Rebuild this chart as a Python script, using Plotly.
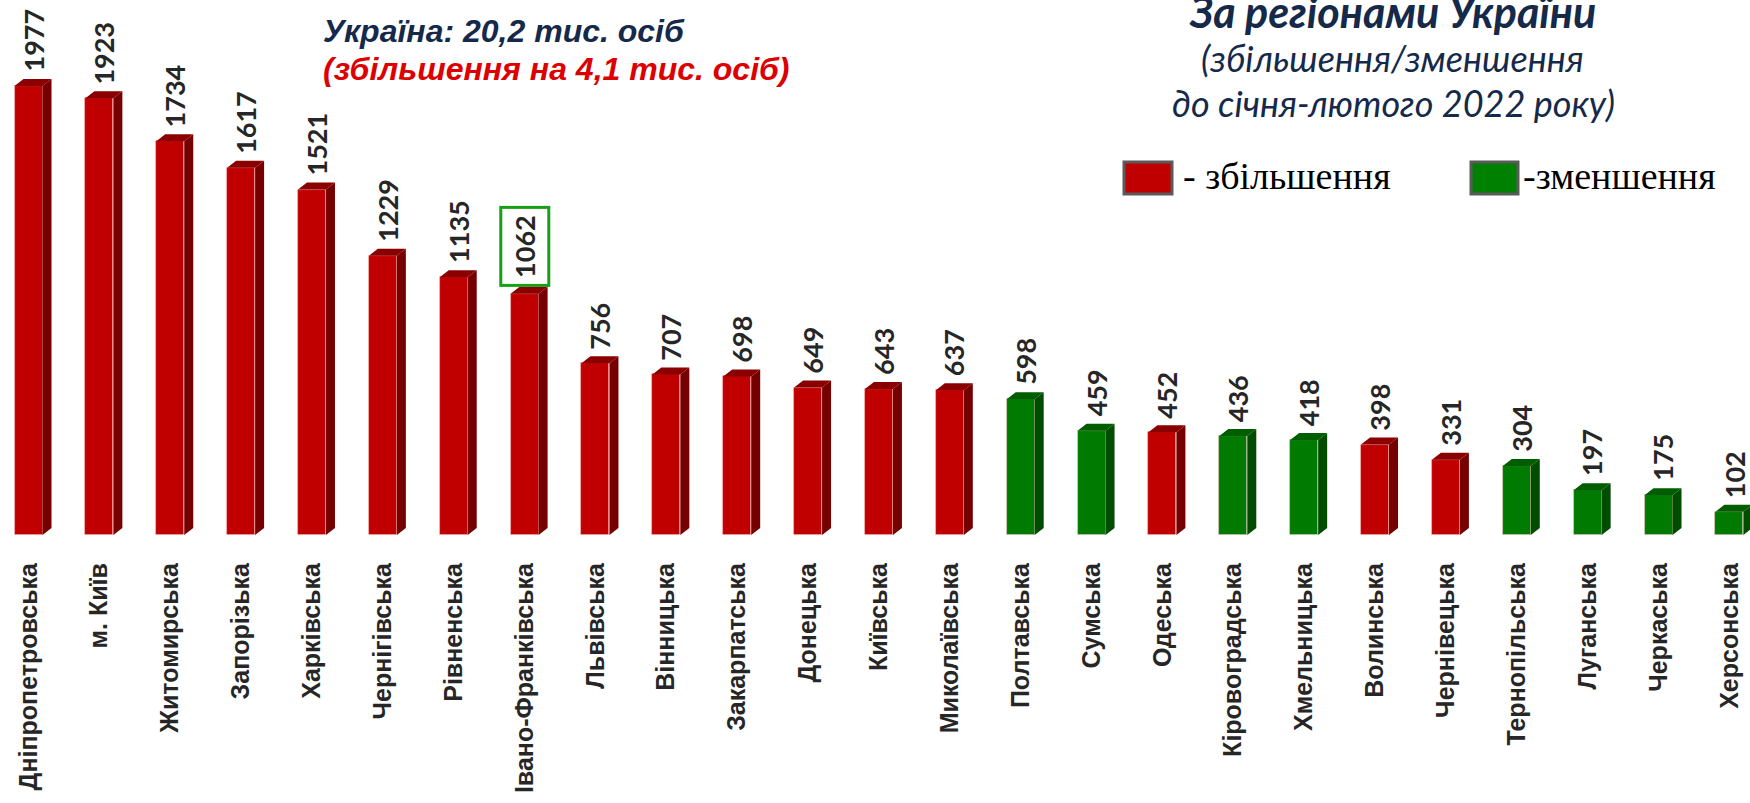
import plotly.graph_objects as go

# ---- data ----
regions = ["Дніпропетровська", "м. Київ", "Житомирська", "Запорізька", "Харківська",
           "Чернігівська", "Рівненська", "Івано-Франківська", "Львівська", "Вінницька",
           "Закарпатська", "Донецька", "Київська", "Миколаївська", "Полтавська",
           "Сумська", "Одеська", "Кіровоградська", "Хмельницька", "Волинська",
           "Чернівецька", "Тернопільська", "Луганська", "Черкаська", "Херсонська"]
values = [1977, 1923, 1734, 1617, 1521, 1229, 1135, 1062, 756, 707,
          698, 649, 643, 637, 598, 459, 452, 436, 418, 398,
          331, 304, 197, 175, 102]
# "+" = increase vs Jan-Feb 2022, "-" = decrease
change = ["+", "+", "+", "+", "+", "+", "+", "+", "+", "+",
          "+", "+", "+", "+", "-", "-", "+", "-", "-", "+",
          "+", "-", "-", "-", "-"]
highlight_region = "Івано-Франківська"

title_left_1 = "Україна: 20,2 тис. осіб"
title_left_2 = "(збільшення на 4,1 тис. осіб)"
title_right = ["За регіонами України", "(збільшення/зменшення", "до січня-лютого 2022 року)"]
legend_labels = {"+": "- збільшення", "-": "-зменшення"}

# ---- style ----
W, H = 1750, 803
FRONT = {"+": "#C00000", "-": "#007A00"}
SIDE = {"+": "#760000", "-": "#004C00"}
TOP = {"+": "#8A0000", "-": "#005E00"}
LEG = {"+": "#C00000", "-": "#008000"}
NAVY = "#15294A"

base_px = 535          # y pixel of baseline
units_per_px = 4.403
bar_spacing_px = 70.87
first_center_px = 28.5
bw = 0.395             # front face width (category units)
dx = 9 / bar_spacing_px   # depth offset, x (units)
dy = 7 * units_per_px     # depth offset, y (data units)

x_idx = list(range(len(regions)))
x0 = -first_center_px / bar_spacing_px
x1 = x0 + W / bar_spacing_px
y1 = base_px * units_per_px

fig = go.Figure()

for sign in ["+", "-"]:
    xs = [i for i in x_idx if change[i] == sign]
    vs = [values[i] for i in xs]
    fig.add_trace(go.Bar(
        x=xs, y=vs, width=bw,
        marker=dict(color=FRONT[sign], line=dict(color="rgba(255,190,190,0.55)", width=0.8)),
        hoverinfo="skip", showlegend=False))
    sx, sy = [], []
    tx, ty = [], []
    for i, v in zip(xs, vs):
        xr = i + bw / 2
        xl = i - bw / 2
        sx += [xr, xr + dx, xr + dx, xr, xr, None]
        sy += [0, dy, v + dy, v, 0, None]
        tx += [xl, xr, xr + dx, xl + dx, xl, None]
        ty += [v, v, v + dy, v + dy, v, None]
    fig.add_trace(go.Scatter(x=sx, y=sy, mode="lines", fill="toself", fillcolor=SIDE[sign],
                             line=dict(width=0, color=SIDE[sign]), hoverinfo="skip",
                             showlegend=False))
    fig.add_trace(go.Scatter(x=tx, y=ty, mode="lines", fill="toself", fillcolor=TOP[sign],
                             line=dict(width=0, color=TOP[sign]), hoverinfo="skip",
                             showlegend=False))

VAL_FONT = dict(family="Lato", size=27, color="#262626", weight="bold")
annotations = []
for i, (r, v) in enumerate(zip(regions, values)):
    if r == highlight_region:
        annotations.append(dict(
            x=i, y=v, xref="x", yref="y", text=str(v), showarrow=False,
            textangle=-90, yanchor="bottom", xanchor="center", yshift=7,
            font=VAL_FONT, bordercolor="#16A016", borderwidth=3, borderpad=6))
    else:
        annotations.append(dict(
            x=i + dx / 2, y=v, xref="x", yref="y", text=str(v), showarrow=False,
            textangle=-90, yanchor="bottom", xanchor="center", yshift=12,
            font=VAL_FONT))


def py(p):
    return (base_px - p) / base_px


annotations += [
    dict(x=321 / W, y=py(31), xref="paper", yref="paper", text="<b><i>" + title_left_1 + "</i></b>",
         showarrow=False, xanchor="left", yanchor="middle",
         font=dict(family="Liberation Sans", size=32, color=NAVY)),
    dict(x=321 / W, y=py(69), xref="paper", yref="paper", text="<b><i>" + title_left_2 + "</i></b>",
         showarrow=False, xanchor="left", yanchor="middle",
         font=dict(family="Liberation Sans", size=32, color="#DD0000")),
    dict(x=1392 / W, y=py(11), xref="paper", yref="paper", text="<b><i>" + title_right[0] + "</i></b>",
         showarrow=False, xanchor="center", yanchor="middle",
         font=dict(family="Lato", size=43, color=NAVY)),
    dict(x=1392 / W, y=py(58), xref="paper", yref="paper", text="<i>" + title_right[1] + "</i>",
         showarrow=False, xanchor="center", yanchor="middle",
         font=dict(family="Lato", size=36, color=NAVY)),
    dict(x=1393 / W, y=py(103), xref="paper", yref="paper", text="<i>" + title_right[2] + "</i>",
         showarrow=False, xanchor="center", yanchor="middle",
         font=dict(family="Lato", size=36, color=NAVY)),
    dict(x=1181 / W, y=py(176), xref="paper", yref="paper", text=legend_labels["+"],
         showarrow=False, xanchor="left", yanchor="middle",
         font=dict(family="Liberation Serif", size=38, color="#000000")),
    dict(x=1521 / W, y=py(176), xref="paper", yref="paper", text=legend_labels["-"],
         showarrow=False, xanchor="left", yanchor="middle",
         font=dict(family="Liberation Serif", size=38, color="#000000")),
]

shapes = [
    dict(type="rect", xref="paper", yref="paper", x0=1124 / W, x1=1172 / W, y0=py(194), y1=py(162),
         fillcolor=LEG["+"], line=dict(color="#5A5A5A", width=3)),
    dict(type="rect", xref="paper", yref="paper", x0=1471 / W, x1=1518 / W, y0=py(194), y1=py(162),
         fillcolor=LEG["-"], line=dict(color="#5A5A5A", width=3)),
]

fig.update_layout(
    width=W, height=H,
    margin=dict(l=0, r=0, t=0, b=H - base_px, pad=0),
    paper_bgcolor="white", plot_bgcolor="white",
    bargap=0, barmode="overlay",
    annotations=annotations, shapes=shapes,
    xaxis=dict(range=[x0, x1], tickmode="array", tickvals=x_idx, ticktext=regions,
               tickangle=-90, ticks="", ticklabelstandoff=22,
               showgrid=False, zeroline=False, showline=False, fixedrange=True,
               tickfont=dict(family="Liberation Sans", size=25, color="#262626", weight="bold")),
    yaxis=dict(range=[0, y1], visible=False, showgrid=False, zeroline=False, fixedrange=True),
)

fig.write_html("out.html", config={"displayModeBar": False},
               post_script="document.body.style.margin='0';document.body.style.padding='0';")
